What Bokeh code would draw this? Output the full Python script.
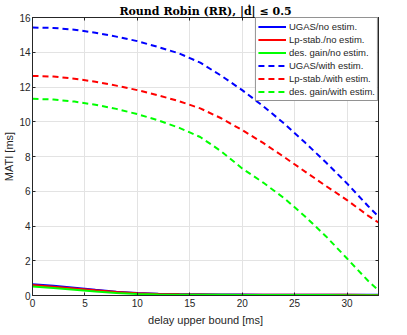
from bokeh.plotting import figure
from bokeh.models import Range1d, LinearAxis, Legend, LegendItem, FixedTicker
from bokeh.embed import file_html
from bokeh.resources import INLINE

# data
delay = [0, 2, 4, 6, 8, 10, 12, 14, 16, 18, 20, 22, 24, 26, 28, 30, 32, 33]
ugas_no = [0.65, 0.56, 0.45, 0.33, 0.22, 0.14, 0.10, 0.08, 0.07, 0.06, 0.06, 0.05, 0.05, 0.05, 0.04, 0.04, 0.04, 0.04]
lp_no = [0.60, 0.51, 0.41, 0.30, 0.20, 0.13, 0.09, 0.07, 0.06, 0.05, 0.05, 0.05, 0.04, 0.04, 0.04, 0.04, 0.03, 0.03]
des_no = [0.52, 0.43, 0.33, 0.23, 0.14, 0.08, 0.06, 0.05, 0.04, 0.04, 0.03, 0.03, 0.03, 0.03, 0.03, 0.02, 0.02, 0.02]
ugas_with = [15.42, 15.40, 15.30, 15.12, 14.90, 14.64, 14.30, 13.93, 13.40, 12.65, 11.82, 10.90, 9.90, 8.80, 7.65, 6.45, 5.15, 4.55]
lp_with = [12.64, 12.60, 12.48, 12.30, 12.08, 11.82, 11.52, 11.18, 10.77, 10.20, 9.52, 8.78, 7.97, 7.13, 6.30, 5.49, 4.60, 4.20]
des_with = [11.32, 11.28, 11.16, 10.98, 10.74, 10.44, 10.08, 9.65, 9.12, 8.30, 7.31, 6.50, 5.60, 4.55, 3.40, 2.13, 0.85, 0.30]

series = [
    ("UGAS/no estim.", ugas_no, "#0000ff", "solid"),
    ("Lp-stab./no estim.", lp_no, "#ff0000", "solid"),
    ("des. gain/no estim.", des_no, "#00ff00", "solid"),
    ("UGAS/with estim.", ugas_with, "#0000ff", "6 4"),
    ("Lp-stab./with estim.", lp_with, "#ff0000", "6 4"),
    ("des. gain/with estim.", des_with, "#00ff00", "6 4"),
]
xticks = [0, 5, 10, 15, 20, 25, 30]
yticks = [0, 2, 4, 6, 8, 10, 12, 14, 16]
title_text = "Round Robin (RR), |ḋ| ≤ 0.5"

AX = "#262626"
p = figure(width=391, height=331, output_backend="svg", toolbar_location=None,
           x_range=Range1d(0, 33), y_range=Range1d(0, 16),
           min_border_left=25, min_border_right=13, min_border_top=17, min_border_bottom=36)
p.background_fill_color = "white"
p.border_fill_color = "white"
p.outline_line_color = AX
p.outline_line_width = 1

p.title.text = title_text
p.title.align = "center"
p.title.text_font = "DejaVu Serif"
p.title.text_font_style = "bold"
p.title.text_font_size = "11px"
p.title.text_color = "black"
p.title.standoff = 0
p.title.offset = 0

for ax in (p.xaxis[0], p.yaxis[0]):
    ax.axis_line_color = AX
    ax.major_tick_line_color = AX
    ax.major_tick_in = 3
    ax.major_tick_out = 0
    ax.minor_tick_line_color = None
    ax.major_label_text_font = "Liberation Sans"
    ax.major_label_text_font_size = "10px"
    ax.major_label_text_color = AX
    ax.axis_label_text_font = "Liberation Sans"
    ax.axis_label_text_font_size = "11px"
    ax.axis_label_text_font_style = "normal"
    ax.axis_label_text_color = AX
p.xaxis.ticker = FixedTicker(ticks=xticks)
p.yaxis.ticker = FixedTicker(ticks=yticks)
p.xaxis.axis_label = "delay upper bound [ms]"
p.yaxis.axis_label = "MATI [ms]"
p.xaxis.major_label_standoff = 3
p.xaxis.axis_label_standoff = 4
p.yaxis.major_label_standoff = 2
p.yaxis.axis_label_standoff = 1

for loc, tk in (("right", yticks), ("above", xticks)):
    a = LinearAxis(ticker=FixedTicker(ticks=tk),
                   major_label_overrides={t: "" for t in tk},
                   major_tick_in=3, major_tick_out=0, minor_tick_line_color=None,
                   axis_line_color=AX, major_tick_line_color=AX, major_label_standoff=0)
    p.add_layout(a, loc)

p.xgrid.ticker = FixedTicker(ticks=xticks)
p.ygrid.ticker = FixedTicker(ticks=yticks)
p.grid.grid_line_color = "#e3e3e3"
p.grid.grid_line_width = 1

items = []
for name, ys, col, dash in series:
    r = p.line(delay, ys, line_color=col, line_width=2, line_dash=dash)
    items.append(LegendItem(label=name, renderers=[r]))

legend = Legend(items=items, location="top_right", label_text_font="Liberation Sans",
                label_text_font_size="9.5px", label_text_color=AX,
                glyph_width=28, glyph_height=13, label_height=13, spacing=0,
                padding=2, margin=0, label_standoff=3,
                border_line_color=AX, border_line_width=1, background_fill_alpha=1)
p.add_layout(legend, "center")

open("out.html", "w").write(file_html(p, INLINE))
